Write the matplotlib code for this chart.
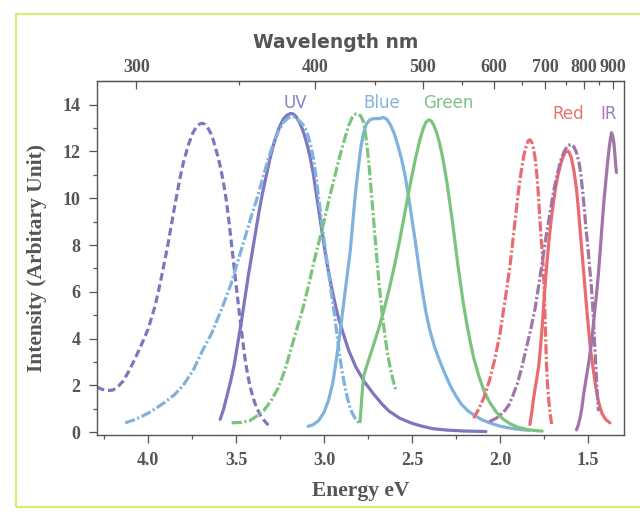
import matplotlib
matplotlib.use("Agg")
import matplotlib.pyplot as plt
from matplotlib.patches import Rectangle
import numpy as np

# energy (eV) / intensity pairs
uv_exc_e = [4.29, 4.26, 4.23, 4.20, 4.17, 4.14, 4.11, 4.08, 4.04, 4.00, 3.96, 3.93, 3.89, 3.85,
            3.82, 3.80, 3.77, 3.745, 3.725, 3.705, 3.69, 3.675, 3.66, 3.645, 3.63, 3.615, 3.60,
            3.585, 3.57, 3.555, 3.54, 3.525, 3.51, 3.495, 3.48, 3.465, 3.45, 3.435, 3.42, 3.40,
            3.38, 3.36, 3.34, 3.31]
uv_exc_i = [1.92, 1.83, 1.78, 1.80, 1.95, 2.20, 2.60, 3.05, 3.70, 4.40, 5.40, 6.40, 7.90, 9.60,
            10.8, 11.5, 12.3, 12.8, 13.05, 13.18, 13.2, 13.15, 13.0, 12.8, 12.5, 12.1, 11.7,
            11.2, 10.6, 9.9, 9.0, 8.0, 7.0, 6.0, 5.0, 4.1, 3.2, 2.5, 1.95, 1.4,
            1.0, 0.7, 0.5, 0.25]

uv_em_e = [3.59, 3.57, 3.55, 3.53, 3.51, 3.49, 3.47, 3.45, 3.43, 3.41, 3.39, 3.37, 3.35, 3.33,
           3.31, 3.29, 3.27, 3.25, 3.23, 3.21, 3.19, 3.175, 3.16, 3.14, 3.12, 3.10, 3.08, 3.06,
           3.04, 3.02, 3.00, 2.98, 2.96, 2.94, 2.92, 2.89, 2.86, 2.82, 2.77, 2.72, 2.67, 2.63,
           2.57, 2.50, 2.44, 2.38, 2.30, 2.20, 2.08]
uv_em_i = [0.55, 1.0, 1.6, 2.2, 2.9, 3.8, 4.7, 5.7, 6.7, 7.6, 8.5, 9.4, 10.2, 10.9,
           11.6, 12.2, 12.7, 13.1, 13.4, 13.55, 13.62, 13.6, 13.5, 13.25, 12.9, 12.4, 11.8, 11.0,
           10.0, 9.0, 8.0, 7.1, 6.3, 5.6, 4.95, 4.2, 3.5, 2.8, 2.15, 1.65, 1.2, 0.9,
           0.6, 0.38, 0.25, 0.15, 0.09, 0.05, 0.03]

blue_exc_e = [4.13, 4.07, 3.99, 3.91, 3.85, 3.80, 3.74, 3.69, 3.64, 3.58, 3.53, 3.49, 3.45, 3.41,
              3.38, 3.35, 3.32, 3.29, 3.26, 3.23, 3.20, 3.18, 3.16, 3.14, 3.12, 3.10, 3.08, 3.06,
              3.045, 3.03, 3.015, 3.00, 2.985, 2.97, 2.955, 2.94, 2.925, 2.91, 2.895, 2.88,
              2.865, 2.85, 2.835, 2.82, 2.80]
blue_exc_i = [0.4, 0.55, 0.85, 1.25, 1.6, 2.0, 2.7, 3.5, 4.2, 5.3, 6.3, 7.3, 8.3, 9.3,
              10.0, 10.8, 11.6, 12.3, 12.85, 13.25, 13.45, 13.5, 13.45, 13.3, 13.15, 12.9, 12.4,
              11.7, 10.9, 10.0, 9.1, 8.2, 7.4, 6.6, 5.8, 5.0, 4.1, 3.2, 2.5, 1.9,
              1.4, 1.0, 0.75, 0.55, 0.4]

blue_em_e = [3.09, 3.06, 3.03, 3.00, 2.975, 2.95, 2.93, 2.91, 2.895, 2.88, 2.865, 2.85, 2.835,
             2.82, 2.805, 2.79, 2.775, 2.76, 2.74, 2.72, 2.69, 2.66, 2.64, 2.62, 2.60, 2.58,
             2.56, 2.54, 2.52, 2.50, 2.48, 2.46, 2.44, 2.42, 2.40, 2.37, 2.34, 2.31, 2.28,
             2.25, 2.22, 2.18, 2.14, 2.10, 2.05, 2.00, 1.94, 1.88, 1.83]
blue_em_i = [0.25, 0.33, 0.5, 0.85, 1.35, 2.1, 3.1, 4.2, 5.1, 6.0, 6.9, 7.8, 9.1,
             10.3, 11.3, 12.2, 12.8, 13.15, 13.35, 13.4, 13.4, 13.45, 13.35, 13.1, 12.75, 12.25,
             11.7, 11.0, 10.1, 9.1, 8.1, 7.0, 6.0, 5.1, 4.4, 3.6, 3.0, 2.45, 1.95,
             1.55, 1.2, 0.9, 0.7, 0.52, 0.38, 0.26, 0.17, 0.11, 0.08]

green_exc_e = [3.525, 3.47, 3.42, 3.38, 3.34, 3.30, 3.26, 3.22, 3.19, 3.155, 3.12, 3.09, 3.06,
               3.03, 3.00, 2.97, 2.94, 2.91, 2.88, 2.86, 2.84, 2.82, 2.805, 2.79, 2.775, 2.765,
               2.755, 2.745, 2.735, 2.725, 2.715, 2.705, 2.695, 2.685, 2.67, 2.655, 2.64, 2.625,
               2.61, 2.59]
green_exc_i = [0.4, 0.42, 0.5, 0.7, 0.95, 1.35, 1.9, 2.7, 3.5, 4.4, 5.3, 6.2, 7.2,
               8.1, 9.0, 10.0, 10.9, 11.8, 12.6, 13.1, 13.45, 13.6, 13.6, 13.5, 13.25, 12.8,
               12.2, 11.5, 10.6, 9.7, 8.8, 7.9, 7.0, 6.2, 5.1, 4.2, 3.4, 2.8,
               2.3, 1.75]

green_em_e = [2.795, 2.785, 2.775, 2.75, 2.72, 2.69, 2.66, 2.63, 2.60, 2.57, 2.54, 2.51, 2.48,
              2.455, 2.435, 2.42, 2.405, 2.39, 2.375, 2.36, 2.345, 2.33, 2.315, 2.30, 2.285,
              2.27, 2.255, 2.24, 2.225, 2.21, 2.19, 2.17, 2.15, 2.12, 2.09, 2.06, 2.02, 1.98,
              1.94, 1.90, 1.85, 1.80, 1.76]
green_em_i = [0.45, 1.5, 2.4, 3.0, 3.7, 4.4, 5.2, 6.1, 7.1, 8.2, 9.4, 10.6, 11.7,
              12.5, 13.0, 13.25, 13.35, 13.3, 13.1, 12.8, 12.4, 11.9, 11.3, 10.6, 9.8,
              9.0, 8.1, 7.2, 6.4, 5.6, 4.7, 3.9, 3.2, 2.4, 1.75, 1.3, 0.85, 0.55,
              0.35, 0.22, 0.12, 0.07, 0.05]

red_exc_e = [2.15, 2.12, 2.09, 2.06, 2.03, 2.00, 1.98, 1.96, 1.94, 1.925, 1.91, 1.895, 1.88,
             1.865, 1.85, 1.84, 1.83, 1.82, 1.81, 1.80, 1.79, 1.782, 1.775, 1.768, 1.76, 1.753,
             1.748, 1.744, 1.74, 1.736, 1.73, 1.722, 1.714, 1.706]
red_exc_i = [0.6, 1.0, 1.5, 2.2, 3.1, 4.2, 5.2, 6.2, 7.3, 8.3, 9.3, 10.3, 11.1,
             11.8, 12.25, 12.45, 12.5, 12.4, 12.15, 11.7, 11.0, 10.2, 9.3, 8.5, 7.7, 6.9,
             6.0, 5.0, 4.0, 3.0, 2.1, 1.3, 0.75, 0.35]

red_em_e = [1.83, 1.82, 1.81, 1.795, 1.78, 1.77, 1.76, 1.75, 1.74, 1.73, 1.72, 1.71, 1.70,
            1.685, 1.67, 1.655, 1.64, 1.625, 1.61, 1.595, 1.58, 1.565, 1.555, 1.545, 1.535,
            1.525, 1.515, 1.505, 1.495, 1.485, 1.47, 1.455, 1.44, 1.42, 1.40, 1.375]
red_em_i = [0.33, 0.8, 1.4, 2.1, 2.8, 3.6, 4.5, 5.6, 6.6, 7.5, 8.3, 9.0, 9.6,
            10.4, 11.0, 11.45, 11.8, 12.0, 12.0, 11.75, 11.2, 10.4, 9.6, 8.7, 7.8,
            6.9, 6.0, 5.1, 4.3, 3.5, 2.7, 1.9, 1.3, 0.8, 0.55, 0.4]

ir_exc_e = [2.06, 2.02, 1.98, 1.95, 1.925, 1.90, 1.875, 1.85, 1.825, 1.80, 1.775, 1.755, 1.735,
            1.715, 1.695, 1.675, 1.655, 1.635, 1.615, 1.595, 1.58, 1.565, 1.55, 1.54, 1.53,
            1.52, 1.51, 1.50, 1.49, 1.48, 1.47, 1.462, 1.455, 1.448, 1.44]
ir_exc_i = [0.45, 0.6, 0.85, 1.15, 1.6, 2.1, 2.8, 3.6, 4.4, 5.3, 6.5, 7.5, 8.5,
            9.4, 10.3, 11.0, 11.6, 12.0, 12.25, 12.3, 12.2, 11.95, 11.5, 11.0, 10.3,
            9.5, 8.6, 7.9, 7.0, 6.2, 5.0, 3.8, 2.8, 1.8, 0.9]

ir_em_e = [1.565, 1.555, 1.545, 1.535, 1.525, 1.51, 1.495, 1.48, 1.465, 1.45, 1.44, 1.43, 1.42,
           1.41, 1.40, 1.39, 1.38, 1.372, 1.366, 1.36, 1.353, 1.347, 1.342, 1.338]
ir_em_i = [0.1, 0.3, 0.6, 1.0, 1.6, 2.3, 3.0, 3.8, 4.9, 6.0, 6.8, 7.8, 8.8,
           9.8, 10.6, 11.4, 12.1, 12.55, 12.8, 12.7, 12.4, 11.9, 11.4, 11.1]

band_names = ["UV", "Blue", "Green", "Red", "IR"]
band_label_e = [3.165, 2.67, 2.295, 1.61, 1.38]
band_label_i = [14.05, 14.05, 14.05, 13.6, 13.6]
wl_ticks = [300, 400, 500, 600, 700, 800, 900]
wl_minor = [350, 450, 550, 650, 750, 850]
hc = 1220.0  # eV*nm used by the figure's top axis

c_uv = "#7c78bf"
c_blue = "#7fb2de"
c_green = "#7bc47e"
c_red = "#eb6b70"
c_ir = "#a274a8"
label_cols = ["#8183c4", "#82b3de", "#7cc282", "#ea7276", "#a27db0"]
axc = "#555555"

fig = plt.figure(figsize=(6.4, 5.15), dpi=100)
ax = fig.add_axes([0.1516, 0.1553, 0.8234, 0.687])

lw = 2.3
dash = (0, (2.4, 1.2))
dashdot = (0, (3.2, 0.8, 0.7, 0.8))
kw = dict(lw=lw, solid_joinstyle="round", dash_joinstyle="round",
          solid_capstyle="round", dash_capstyle="butt")

ax.plot(uv_exc_e, uv_exc_i, color=c_uv, ls=dash, **kw)
ax.plot(uv_em_e, uv_em_i, color=c_uv, **kw)
ax.plot(blue_exc_e, blue_exc_i, color=c_blue, ls=dashdot, **kw)
ax.plot(blue_em_e, blue_em_i, color=c_blue, **kw)
ax.plot(green_exc_e, green_exc_i, color=c_green, ls=dashdot, **kw)
ax.plot(green_em_e, green_em_i, color=c_green, **kw)
ax.plot(red_exc_e, red_exc_i, color=c_red, ls=dashdot, **kw)
ax.plot(red_em_e, red_em_i, color=c_red, **kw)
ax.plot(ir_exc_e, ir_exc_i, color=c_ir, ls=dashdot, **kw)
ax.plot(ir_em_e, ir_em_i, color=c_ir, **kw)

for name, e, i, c in zip(band_names, band_label_e, band_label_i, label_cols):
    ax.text(e, i, name, color=c, fontsize=12, ha="center", va="center",
            family="DejaVu Sans")

ax.set_xlim(4.29, 1.295)
ax.set_ylim(-0.12, 15.0)
ax.set_xticks([4.0, 3.5, 3.0, 2.5, 2.0, 1.5])
ax.set_xticklabels(["4.0", "3.5", "3.0", "2.5", "2.0", "1.5"])
ax.set_xticks(np.arange(4.25, 1.3, -0.25), minor=True)
ax.set_yticks(range(0, 15, 2))
ax.set_yticks(range(1, 15, 2), minor=True)

serif = "Liberation Serif"
for lab in ax.get_xticklabels() + ax.get_yticklabels():
    lab.set_family(serif)
    lab.set_fontsize(13)
    lab.set_color(axc)
    lab.set_weight("bold")
ax.tick_params(which="both", direction="out", colors=axc, width=0.9)
ax.tick_params(which="major", length=6, pad=6)
ax.tick_params(which="minor", length=3)
for sp in ax.spines.values():
    sp.set_color(axc)
    sp.set_linewidth(1.0)

ax.set_xlabel("Energy eV", family=serif, fontsize=15.5, weight="bold", color=axc, labelpad=9)
ax.set_ylabel("Intensity (Arbitary Unit)", family=serif, fontsize=15.5, weight="bold",
              color=axc, labelpad=11)

top = ax.secondary_xaxis("top", functions=(lambda e: hc / np.maximum(e, 1e-6),
                                           lambda w: hc / np.maximum(w, 1e-6)))
top.set_xticks(wl_ticks)
top.set_xticklabels([str(w) for w in wl_ticks])
top.set_xticks(wl_minor, minor=True)
top.tick_params(which="both", direction="in", colors=axc, width=0.9)
top.tick_params(which="major", length=6, pad=4)
top.tick_params(which="minor", length=3)
for lab in top.get_xticklabels():
    lab.set_family(serif)
    lab.set_fontsize(13)
    lab.set_color(axc)
    lab.set_weight("bold")
top.set_xlabel("Wavelength nm", family="DejaVu Sans", fontsize=13.5, weight="bold",
               color=axc, labelpad=8)
top.xaxis.label.set_x(0.452)

# scanner border around the page
fig.patches.append(Rectangle((16 / 640, 8 / 515), 1.2, 493 / 515, transform=fig.transFigure,
                             fill=False, edgecolor="#d9ea7a", lw=1.6))

fig.savefig("out.png", dpi=100)
